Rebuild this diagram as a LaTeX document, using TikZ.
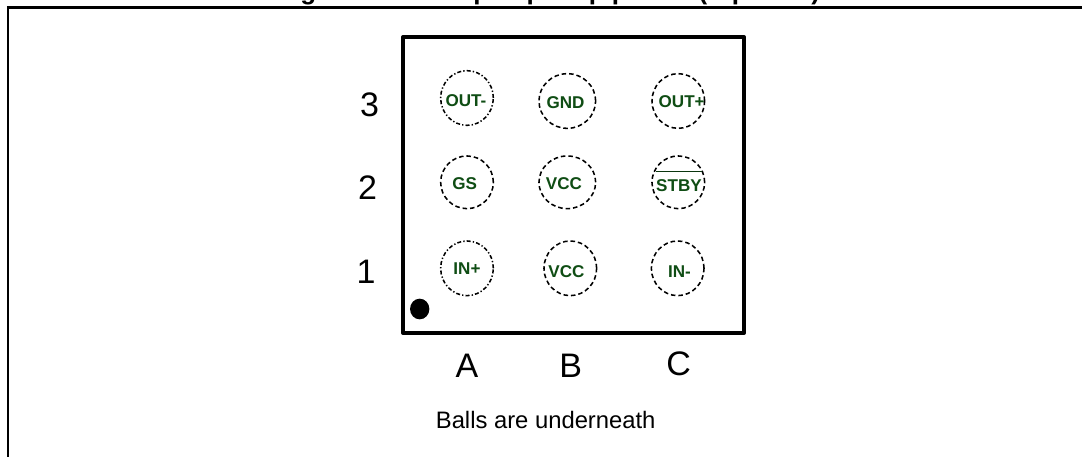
\documentclass[tikz,border=0pt]{standalone}
\usepackage{fontspec}
\setmainfont{Liberation Sans}
\usetikzlibrary{shapes.geometric}
\definecolor{pingreen}{HTML}{0F4D14}
\tikzset{
  x=0.75pt,y=-0.75pt,
  ball/.style={draw=black,line width=1.15pt,shape=ellipse,inner sep=0pt,outer sep=0pt,fill=none},
  dashball/.style={ball,dash pattern=on 3.4pt off 2.2pt},
  dotball/.style={ball,dash pattern=on 3pt off 1.6pt on 1pt off 1.6pt},
  wide/.style={minimum width=42.5pt,minimum height=41pt},
  narrow/.style={minimum width=39.5pt,minimum height=41pt},
  pin/.style={inner sep=0pt,text=pingreen,font=\fontsize{12.8pt}{14pt}\selectfont\bfseries},
  big/.style={inner sep=0pt,font=\fontsize{25.5pt}{28pt}\selectfont},
  frame/.style={line width=1.7pt,draw=black},
  chip/.style={line width=3.2pt,draw=black,line join=round}
}
\begin{document}
\begin{tikzpicture}
\useasboundingbox (0,0) rectangle (1082,457);
\fill[white] (0,0) rectangle (1082,457);
\coordinate (fa) at (8,457);
\coordinate (fb) at (8,7.5);
\coordinate (fc) at (1082,7.5);
\draw[frame] (fa) -- (fb);
\draw[line width=2.1pt] ([xshift=-0.85pt]fb) -- (fc);
\node[anchor=base west,inner sep=0pt,font=\fontsize{19.5pt}{22pt}\selectfont\bfseries] (title) at (277,-1) {Figure 1. 9-bump Flip-chip pinout (top view)};
\node[chip,draw,minimum width=255.75pt,minimum height=221.6pt,inner sep=0pt,outer sep=0pt,anchor=north west] (pkg) at (403,37.3) {};
\node[fill=black,shape=ellipse,inner sep=0pt,outer sep=0pt,minimum width=14.5pt,minimum height=15.5pt] (dot) at (419.7,309) {};
% balls
\node[dotball,narrow] (a3) at (467,98) {};
\node[dashball,wide] (b3) at (567.3,101) {};
\node[dashball,narrow] (c3) at (678.3,101) {};
\node[dashball,narrow,minimum height=39.5pt] (a2) at (467,182.3) {};
\node[dashball,wide,minimum height=39.5pt] (b2) at (567.3,182.3) {};
\node[dashball,narrow,minimum height=39.5pt] (c2) at (678.3,182.3) {};
\node[dotball,narrow] (a1) at (467,268.3) {};
\node[dashball,narrow] (b1) at (570.3,268.3) {};
\node[dashball,narrow] (c1) at (677.7,268.3) {};
% labels
\node[pin] (ta3) at (466,101) {OUT-};
\node[pin] (tb3) at (565.5,102.3) {GND};
\node[pin] (tc3) at (681.7,102) {OUT+};
\node[pin] (ta2) at (464.7,184) {GS};
\node[pin] (tb2) at (564,184) {VCC};
\node[pin] (tc2) at (679,186) {STBY};
\node[pin] (ta1) at (467,269) {IN+};
\node[pin] (tb1) at (566.5,272) {VCC};
\node[pin] (tc1) at (679.5,272) {IN-};
\coordinate (ola) at (655.7,171.3);
\coordinate (olb) at (701.7,171.3);
\draw[line width=0.7pt,pingreen!70!black] (ola) -- (olb);
% axis
\node[big] (r3) at (369.5,105) {3};
\node[big] (r2) at (367.5,187.2) {2};
\node[big] (r1) at (366,272) {1};
\node[big] (ca) at (467,365.8) {A};
\node[big] (cb) at (570.7,366) {B};
\node[big] (cc) at (678.7,364) {C};
\node[inner sep=0pt,font=\fontsize{17.85pt}{20pt}\selectfont] (note) at (545.7,420) {Balls are underneath};
\end{tikzpicture}
\end{document}
